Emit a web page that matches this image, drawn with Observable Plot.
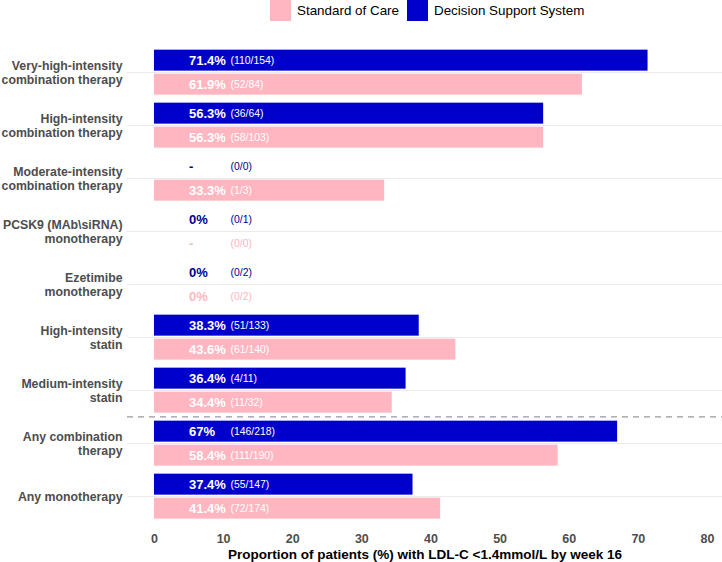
<!DOCTYPE html>
<html><head><meta charset="utf-8">
<script src="https://cdn.jsdelivr.net/npm/d3@7"></script>
<script src="https://cdn.jsdelivr.net/npm/@observablehq/plot@0.6"></script>
<style>
body{margin:0;background:#fff;font-family:"Liberation Sans",Arial,Helvetica,sans-serif;}
#wrap{width:722px;}
#legend{height:24px;width:722px;display:flex;align-items:flex-start;padding-left:270px;box-sizing:border-box;}
.sw{width:21px;height:21px;flex:none;}
.lt{height:21px;line-height:21px;font-size:13.4px;color:#000;white-space:nowrap;}
</style></head><body>
<div id="wrap"><div id="legend"></div><div id="chart"></div></div>
<script>
// ---- data ----
const categories = [
  "Very-high-intensity\ncombination therapy",
  "High-intensity\ncombination therapy",
  "Moderate-intensity\ncombination therapy",
  "PCSK9 (MAb\\siRNA)\nmonotherapy",
  "Ezetimibe\nmonotherapy",
  "High-intensity\nstatin",
  "Medium-intensity\nstatin",
  "Any combination\ntherapy",
  "Any monotherapy"
];
const dssValues = [71.4, 56.3, null, 0, 0, 38.3, 36.4, 67, 37.4];
const dssNum    = [110, 36, 0, 0, 0, 51, 4, 146, 55];
const dssDen    = [154, 64, 0, 1, 2, 133, 11, 218, 147];
const socValues = [61.9, 56.3, 33.3, null, 0, 43.6, 34.4, 58.4, 41.4];
const socNum    = [52, 58, 1, 0, 0, 61, 11, 111, 72];
const socDen    = [84, 103, 3, 0, 2, 140, 32, 190, 174];
const groups = ["Decision Support System", "Standard of Care"];
const legendOrder = ["Standard of Care", "Decision Support System"];
const groupColors = ["#0000CD", "#FFB6C1"];
const groupTextColors = ["#00008B", "#FFB6C1"];
const xTicks = [0, 10, 20, 30, 40, 50, 60, 70, 80];
const xLabel = "Proportion of patients (%) with LDL-C <1.4mmol/L by week 16";
const separatorBefore = ["Any combination\ntherapy"];

// ---- table ----
const rows = [];
categories.forEach((cat, i) => {
  [[dssValues, dssNum, dssDen, 0], [socValues, socNum, socDen, 1]].forEach(([vals, nums, dens, g]) => {
    const v = vals[i];
    rows.push({
      cat, group: groups[g], value: v,
      pct: v == null ? "-" : `${v}%`,
      frac: `(${nums[i]}/${dens[i]})`,
      hasBar: v != null && v > 0,
      tcol: groupTextColors[g]
    });
  });
});
const sepRows = separatorBefore.map(cat => ({cat}));

// ---- legend ----
const leg = document.getElementById("legend");
legendOrder.forEach((name, k) => {
  const sw = document.createElement("div");
  sw.className = "sw";
  sw.style.background = groupColors[groups.indexOf(name)];
  sw.style.marginLeft = k === 0 ? "0px" : "8px";
  const t = document.createElement("div");
  t.className = "lt";
  t.style.marginLeft = "6px";
  t.textContent = name;
  leg.appendChild(sw); leg.appendChild(t);
});

// ---- chart ----
const pctX = 5, fracX = 11;
const chart = Plot.plot({
  width: 722, height: 538,
  marginLeft: 127, marginRight: 0, marginTop: 16.35, marginBottom: 34.95,
  style: {fontFamily: "'Liberation Sans', Arial, sans-serif", background: "#fff", overflow: "visible"},
  x: {domain: [-3.9, 82.17], axis: null},
  y: {domain: groups, axis: null, paddingInner: 0.125, paddingOuter: 0},
  fy: {domain: categories, paddingInner: 0.14, paddingOuter: 0.14, axis: null},
  color: {domain: groups, range: groupColors},
  marks: [
    Plot.gridFy({stroke: "#ebebeb", strokeOpacity: 1, strokeWidth: 1.2}),
    Plot.ruleY(sepRows, {fy: "cat", y: null, dy: -26.6, stroke: "#999999", strokeWidth: 1.3, strokeDasharray: "6,5"}),
    Plot.barX(rows.filter(d => d.hasBar), {fy: "cat", y: "group", x1: () => 0, x2: "value", fill: "group"}),
    Plot.text(rows, {fy: "cat", y: "group", x: () => pctX, text: "pct", textAnchor: "start",
      fill: d => d.hasBar ? "#ffffff" : d.tcol, fontWeight: "bold", fontSize: 13}),
    Plot.text(rows, {fy: "cat", y: "group", x: () => fracX, text: "frac", textAnchor: "start",
      fill: d => d.hasBar ? "#ffffff" : d.tcol, fontSize: 10.4}),
    Plot.axisFy({anchor: "left", tickSize: 0, tickPadding: 5, label: null, fontSize: 12.3,
      fontWeight: "bold", fill: "#4d4d4d", lineHeight: 1.12}),
    Plot.axisX({ticks: xTicks, tickSize: 0, tickPadding: 15, tickFormat: d => `${d}`, label: null,
      fontSize: 12.5, fontWeight: "bold", fill: "#4d4d4d"}),
    Plot.axisX({ticks: [], tickSize: 0, label: xLabel, labelAnchor: "center", labelArrow: "none",
      labelOffset: 39.5, fontSize: 13.5, fontWeight: "bold", fill: "#000000"})
  ]
});
document.getElementById("chart").appendChild(chart);
</script>
</body></html>
